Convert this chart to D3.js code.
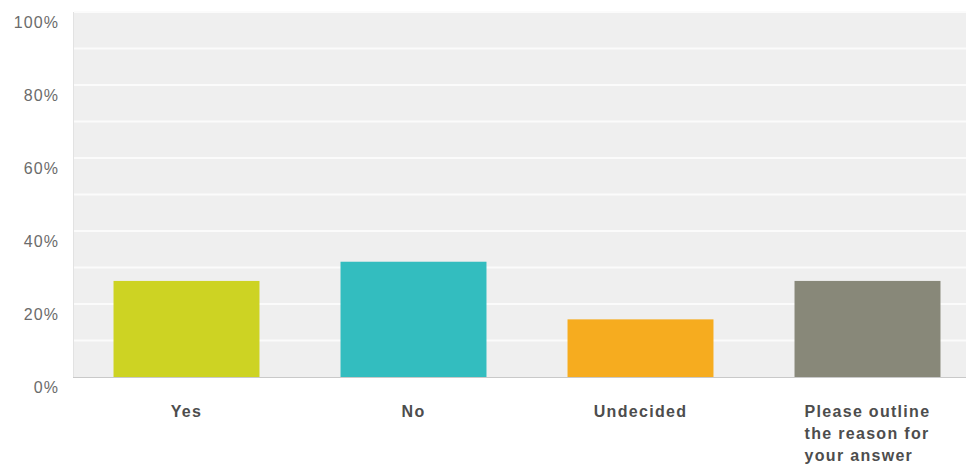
<!DOCTYPE html>
<html>
<head>
<meta charset="utf-8">
<script src="https://cdn.jsdelivr.net/npm/d3@7"></script>
<style>
  html, body { margin: 0; padding: 0; background: #fff; }
  svg { display: block; }
  text { font-family: "Liberation Sans", Arial, Helvetica, sans-serif; }
</style>
</head>
<body>
<svg id="chart" width="966" height="470"></svg>
<script>
// Survey answers and the share of respondents choosing each one (%)
const categories = ["Yes", "No", "Undecided", "Please outline the reason for your answer"];
const labelLines = [["Yes"], ["No"], ["Undecided"], ["Please outline", "the reason for", "your answer"]];
const values = [26.32, 31.58, 15.79, 26.32];
const colors = ["#cdd323", "#33bdbf", "#f6ac1f", "#888879"];
const yTicks = [0, 20, 40, 60, 80, 100];
const gridTicks = [10, 20, 30, 40, 50, 60, 70, 80, 90, 100];

const svg = d3.select("#chart");
const plotLeft = 73, plotRight = 981, plotTop = 12, plotBottom = 377;

const x = d3.scaleBand()
  .domain(categories)
  .range([plotLeft, plotRight])
  .paddingInner(0.357)
  .paddingOuter(0.1785);

const y = d3.scaleLinear().domain([0, 100]).range([plotBottom, plotTop]);

// plot background
svg.append("rect")
  .attr("x", plotLeft).attr("y", plotTop)
  .attr("width", 966 - plotLeft).attr("height", plotBottom - plotTop)
  .attr("fill", "#efefef");
svg.append("line")
  .attr("x1", plotLeft + 0.5).attr("x2", plotLeft + 0.5)
  .attr("y1", plotTop).attr("y2", plotBottom)
  .attr("stroke", "#e2e2e2");

// horizontal gridlines
svg.append("g").selectAll("line")
  .data(gridTicks)
  .join("line")
  .attr("x1", plotLeft + 1).attr("x2", 966)
  .attr("y1", d => y(d)).attr("y2", d => y(d))
  .attr("stroke", "#fbfbfb")
  .attr("stroke-width", 2);

// y tick labels
svg.append("g").selectAll("text")
  .data(yTicks)
  .join("text")
  .attr("x", 59)
  .attr("y", d => y(d) + 10)
  .attr("dy", "0.35em")
  .attr("text-anchor", "end")
  .attr("fill", "#6b6b6b")
  .attr("font-size", 16)
  .attr("letter-spacing", 1.1)
  .text(d => d + "%");

// bars
svg.append("g").selectAll("rect")
  .data(categories)
  .join("rect")
  .attr("x", d => x(d))
  .attr("width", x.bandwidth())
  .attr("y", (d, i) => y(values[i]))
  .attr("height", (d, i) => y(0) - y(values[i]))
  .attr("fill", (d, i) => colors[i]);

// baseline
svg.append("line")
  .attr("x1", plotLeft).attr("x2", 966)
  .attr("y1", plotBottom + 0.5).attr("y2", plotBottom + 0.5)
  .attr("stroke", "#c9c9c9");

// category labels, wrapped lines left-aligned as a centred block
const labels = svg.append("g");
categories.forEach((c, i) => {
  const t = labels.append("text")
    .attr("font-size", 16)
    .attr("font-weight", "bold")
    .attr("letter-spacing", 1.3)
    .attr("fill", "#4d4d4d");
  labelLines[i].forEach((line, j) => {
    t.append("tspan").attr("x", 0).attr("y", 411 + j * 22).attr("dy", "0.35em").text(line);
  });
  const w = t.node().getBBox().width;
  const cx = x(c) + x.bandwidth() / 2;
  t.selectAll("tspan").attr("x", cx - w / 2);
});
</script>
</body>
</html>
